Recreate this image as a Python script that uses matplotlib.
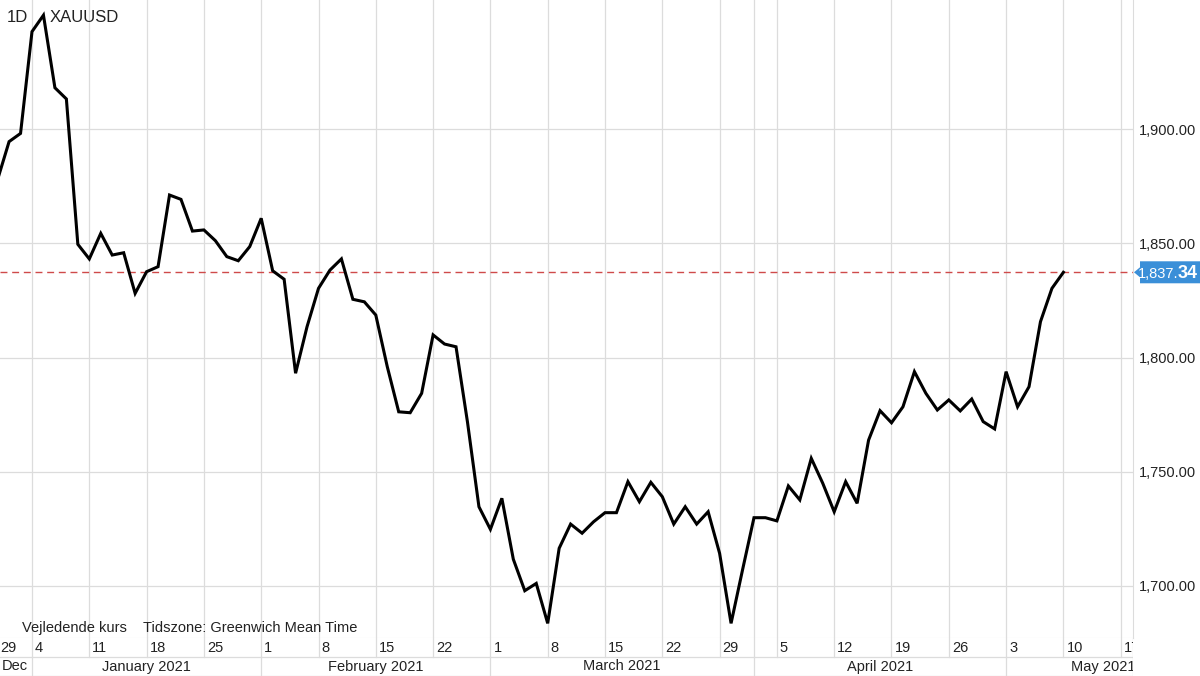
import matplotlib
matplotlib.use('Agg')
import matplotlib.pyplot as plt
import pandas as pd
from matplotlib.patches import Polygon

plt.rcParams['font.family'] = ['Liberation Sans', 'DejaVu Sans']

# ---- data -------------------------------------------------------------
symbol = "XAUUSD"
interval = "1D"
prices = [1878.0, 1894.6, 1898.2, 1942.8, 1950.0, 1918.2, 1913.3, 1849.6, 1843.2, 1854.4,
          1844.9, 1845.9, 1828.1, 1837.6, 1839.8, 1871.2, 1869.3, 1855.4, 1855.9, 1851.2,
          1844.2, 1842.4, 1848.6, 1861.0, 1838.0, 1834.3, 1793.1, 1813.5, 1830.3, 1838.3,
          1843.2, 1825.5, 1824.4, 1818.6, 1796.0, 1776.2, 1775.8, 1784.3, 1809.9, 1805.9,
          1804.7, 1771.7, 1734.6, 1724.7, 1738.3, 1711.6, 1697.8, 1701.0, 1683.5, 1716.4,
          1727.0, 1723.0, 1728.0, 1732.0, 1732.0, 1745.6, 1736.8, 1745.3, 1739.0, 1727.0,
          1734.6, 1727.0, 1732.4, 1714.2, 1683.5, 1706.9, 1729.8, 1729.8, 1728.4, 1743.7,
          1737.6, 1755.8, 1744.9, 1732.4, 1745.6, 1736.1, 1763.8, 1776.7, 1771.4, 1778.4,
          1793.8, 1784.3, 1777.0, 1781.4, 1776.6, 1781.8, 1771.9, 1768.7, 1793.8, 1778.4,
          1787.2, 1815.7, 1830.3, 1837.34]
last_price = 1837.34
holidays = ['2021-01-01']
tick_dates = ['2020-12-29', '2021-01-04', '2021-01-11', '2021-01-18', '2021-01-25',
              '2021-02-01', '2021-02-08', '2021-02-15', '2021-02-22', '2021-03-01',
              '2021-03-08', '2021-03-15', '2021-03-22', '2021-03-29', '2021-04-05',
              '2021-04-12', '2021-04-19', '2021-04-26', '2021-05-03', '2021-05-10',
              '2021-05-17']
tick_labels = ['29', '4', '11', '18', '25', '1', '8', '15', '22', '1', '8', '15', '22',
               '29', '5', '12', '19', '26', '3', '10', '17']
month_labels = ['Dec', 'January 2021', 'February 2021', 'March 2021', 'April 2021', 'May 2021']
month_starts = ['2020-12-29', '2021-01-04', '2021-02-01', '2021-03-01', '2021-04-01', '2021-05-03']
y_ticks = [1700, 1750, 1800, 1850, 1900]
note_left = "Vejledende kurs"
note_right = "Tidszone: Greenwich Mean Time"

# trading-day positions
days = [d for d in pd.bdate_range('2020-12-29', '2021-05-21') if d.strftime('%Y-%m-%d') not in holidays]
pos = {d.strftime('%Y-%m-%d'): i for i, d in enumerate(days)}
xs = list(range(len(prices)))

# ---- layout -----------------------------------------------------------
W, H = 1200, 676
fig = plt.figure(figsize=(12, 6.76), dpi=100)
fig.patch.set_facecolor('white')

plot_right = 1133
plot_bottom = 638
ax = fig.add_axes([0, 1 - plot_bottom / H, plot_right / W, plot_bottom / H])
bax = fig.add_axes([0, 0, plot_right / W, (H - plot_bottom) / H])

px_per_day = (1120.7 - 32) / 95.0
x0 = pos['2021-01-04'] - 32 / px_per_day
x1 = pos['2021-01-04'] + (plot_right - 32) / px_per_day
ppu = 114.1 / 50.0
y_top = 1700 + 585.7 / ppu
y_bot = 1700 - (plot_bottom - 585.7) / ppu

grid_c = '#dcdcdc'
txt_c = '#222222'

for a in (ax, bax):
    a.set_xlim(x0, x1)
    for s in a.spines.values():
        s.set_visible(False)
    a.set_xticks([])

ax.set_ylim(y_bot, y_top)
ax.spines['right'].set_visible(True)
ax.spines['right'].set_color(grid_c)
ax.spines['bottom'].set_visible(True)
ax.spines['bottom'].set_color(grid_c)
ax.yaxis.tick_right()
ax.set_yticks(y_ticks)
ax.set_yticklabels([f"{v:,.2f}" for v in y_ticks])
ax.tick_params(axis='y', length=0, pad=4, labelsize=10.5, labelcolor=txt_c)
for v in y_ticks:
    ax.axhline(v, color=grid_c, lw=0.9, zorder=1)

tick_pos = [pos[d] for d in tick_dates]
month_pos = [pos[d] for d in month_starts]
for p in sorted(set(tick_pos + month_pos)):
    ax.axvline(p, color=grid_c, lw=0.9, zorder=1)

ax.plot(xs, prices, color='black', lw=2.2, zorder=3, solid_joinstyle='miter')
ax.axhline(last_price, color='#cf4a4a', lw=1.0, ls=(0, (5, 3.4)), zorder=2)

ax.text(22 / plot_right, (plot_bottom - 628) / plot_bottom, note_left, transform=ax.transAxes,
        fontsize=10.5, color=txt_c, va='center', ha='left')
ax.text(143 / plot_right, (plot_bottom - 628) / plot_bottom, note_right, transform=ax.transAxes,
        fontsize=10.5, color=txt_c, va='center', ha='left')

# ---- bottom axis rows --------------------------------------------------
bax.set_ylim(0, 2)
bax.set_yticks([])
bax.axhline(1, color=grid_c, lw=0.9)
bax.axhline(0.02, color=grid_c, lw=0.9)
bax.axvline(x1 - 0.04, color=grid_c, lw=0.9)
for p in sorted(set(tick_pos + month_pos[1:])):
    bax.plot([p, p], [1, 2], color=grid_c, lw=0.9)
for p, lab in zip(tick_pos, tick_labels):
    bax.text(p + 3 / px_per_day, 1.5, lab, fontsize=10.5, color=txt_c, va='center', ha='left',
             clip_on=True)
for p in month_pos[1:]:
    bax.plot([p, p], [0, 1], color=grid_c, lw=0.9)
bounds = month_pos[1:] + [None]
for k, (lab, p) in enumerate(zip(month_labels, month_pos)):
    nxt = bounds[k]
    if k == 0:
        bax.text(x0 + 2 / px_per_day, 0.5, lab, fontsize=10.5, color=txt_c, va='center', ha='left')
    elif nxt is None:
        bax.text(x1 + 3 / px_per_day, 0.5, lab, fontsize=10.5, color=txt_c, va='center',
                 ha='right', clip_on=True)
    else:
        bax.text((p + nxt) / 2, 0.5, lab, fontsize=10.5, color=txt_c, va='center', ha='center')

# ---- header ------------------------------------------------------------
fig.text(7 / W, 1 - 17 / H, interval, fontsize=12, color=txt_c, va='center', ha='left')
fig.text(50 / W, 1 - 17 / H, symbol, fontsize=12, color=txt_c, va='center', ha='left')

# ---- last price badge ---------------------------------------------------
yc = 1 - plot_bottom / H + (last_price - y_bot) * ppu / H
hh = 11 / H
badge = Polygon([(1134 / W, yc), (1140 / W, yc + 5 / H), (1140 / W, yc + hh),
                 (1200 / W, yc + hh), (1200 / W, yc - hh), (1140 / W, yc - hh),
                 (1140 / W, yc - 5 / H)], closed=True, transform=fig.transFigure,
                facecolor='#3a8fd8', edgecolor='none')
fig.patches.append(badge)
price_txt = f"{last_price:,.2f}"
head, tail = price_txt[:-2], price_txt[-2:]
fig.text(1198 / W, yc - 6 / H, tail, fontsize=13, fontweight='bold', color='white',
         va='baseline', ha='right')
fig.text(1178 / W, yc - 6 / H, head, fontsize=10.5, color='white', va='baseline', ha='right')

fig.savefig('out.png', dpi=100, facecolor='white')
